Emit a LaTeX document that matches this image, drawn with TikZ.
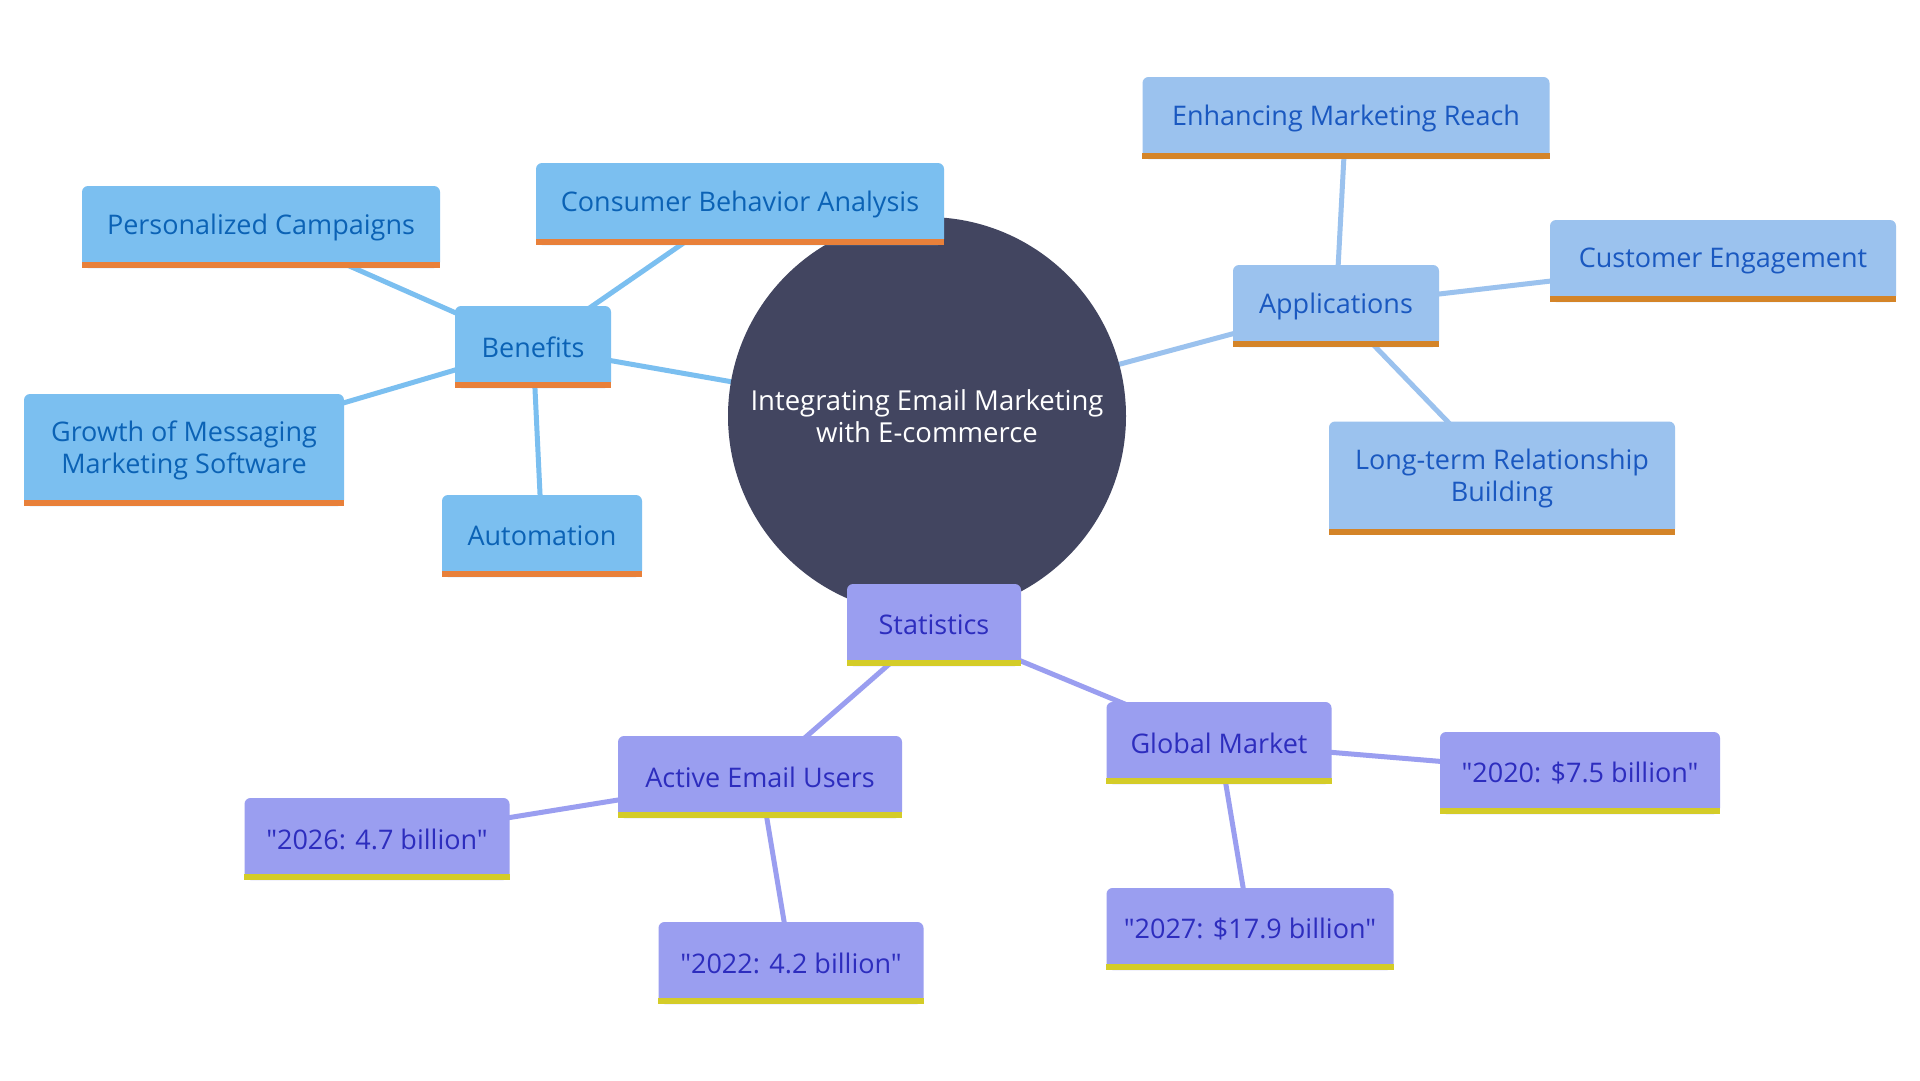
\documentclass[tikz,border=0pt]{standalone}
\usepackage{fontspec}
\setmainfont{Open Sans}[Ligatures=TeXOff]
\usetikzlibrary{backgrounds}
\definecolor{benfill}{HTML}{7BBFF0}
\definecolor{bentext}{HTML}{0B62B5}
\definecolor{benbar}{HTML}{E8803A}
\definecolor{appfill}{HTML}{9BC2EE}
\definecolor{apptext}{HTML}{1A58C0}
\definecolor{appbar}{HTML}{D48428}
\definecolor{statfill}{HTML}{9A9EF0}
\definecolor{stattext}{HTML}{2D2DBE}
\definecolor{statbar}{HTML}{D4CC28}
\definecolor{hubfill}{HTML}{424560}
\tikzset{
  box/.style={rectangle, rounded corners=6pt, inner sep=0pt, align=center,
    font=\fontsize{27}{32}\selectfont},
  ben/.style={box, fill=benfill, text=bentext},
  app/.style={box, fill=appfill, text=apptext},
  stat/.style={box, fill=statfill, text=stattext},
  benlink/.style={draw=benfill, line width=5pt},
  applink/.style={draw=appfill, line width=5pt},
  statlink/.style={draw=statfill, line width=5pt},
  hubnode/.style={circle, fill=hubfill, inner sep=0pt, minimum size=398pt,
    text=white, align=center, font=\fontsize{27.5}{32}\selectfont}
}
\begin{document}
\begin{tikzpicture}[x=1pt,y=-1pt]
\useasboundingbox (0,0) rectangle (1920,1080);

\node[hubnode] (hub) at (927,416) {Integrating Email Marketing\\with E-commerce};

% Benefits group
\node[ben, minimum width=156pt, minimum height=82pt] (benefits) at (533,347) {Benefits};
\node[ben, minimum width=408pt, minimum height=82pt] (consumer) at (740,204) {Consumer Behavior Analysis};
\node[ben, minimum width=358pt, minimum height=82pt] (personal) at (261,227) {Personalized Campaigns};
\node[ben, minimum width=320pt, minimum height=112pt] (growth) at (184,450) {Growth of Messaging\\Marketing Software};
\node[ben, minimum width=200pt, minimum height=82pt] (auto) at (542,536) {Automation};

% Applications group
\node[app, minimum width=206pt, minimum height=82pt] (apps) at (1336,306) {Applications};
\node[app, minimum width=407pt, minimum height=82pt] (reach) at (1346,118) {Enhancing Marketing Reach};
\node[app, minimum width=346pt, minimum height=82pt] (engage) at (1723,261) {Customer Engagement};
\node[app, minimum width=346pt, minimum height=113pt] (longterm) at (1502,478) {Long-term Relationship\\Building};

% Statistics group
\node[stat, minimum width=174pt, minimum height=82pt] (stats) at (934,625) {Statistics};
\node[stat, minimum width=225pt, minimum height=82pt] (global) at (1219,743) {Global Market};
\node[stat, minimum width=280pt, minimum height=82pt] (y2020) at (1580,773) {"2020: \$7.5 billion"};
\node[stat, minimum width=287pt, minimum height=82pt] (y2027) at (1250,929) {"2027: \$17.9 billion"};
\node[stat, minimum width=284pt, minimum height=82pt] (active) at (760,777) {Active Email Users};
\node[stat, minimum width=265pt, minimum height=82pt] (y2026) at (377,839) {"2026: 4.7 billion"};
\node[stat, minimum width=265pt, minimum height=82pt] (y2022) at (791,963) {"2022: 4.2 billion"};

% bottom bars
\foreach \n/\c in {benefits/benbar, consumer/benbar, personal/benbar, growth/benbar, auto/benbar,
  apps/appbar, reach/appbar, engage/appbar, longterm/appbar,
  stats/statbar, global/statbar, y2020/statbar, y2027/statbar, active/statbar, y2026/statbar, y2022/statbar}
  \fill[\c] (\n.south west) rectangle ([yshift=6pt]\n.south east);

% connectors
\begin{scope}[on background layer]
\fill[white] (0,0) rectangle (1920,1080);
\draw[benlink] (hub.center) -- (benefits.center);
\draw[benlink] (benefits.center) -- (consumer.center);
\draw[benlink] (benefits.center) -- (personal.center);
\draw[benlink] (benefits.center) -- (growth.center);
\draw[benlink] (benefits.center) -- (auto.center);
\draw[applink] (hub.center) -- (apps.center);
\draw[applink] (apps.center) -- (reach.center);
\draw[applink] (apps.center) -- (engage.center);
\draw[applink] (apps.center) -- (longterm.center);
\draw[statlink] (hub.center) -- (stats.center);
\draw[statlink] (stats.center) -- (global.center);
\draw[statlink] (global.center) -- (y2020.center);
\draw[statlink] (global.center) -- (y2027.center);
\draw[statlink] (stats.center) -- (active.center);
\draw[statlink] (active.center) -- (y2026.center);
\draw[statlink] (active.center) -- (y2022.center);
\end{scope}
\end{tikzpicture}
\end{document}
